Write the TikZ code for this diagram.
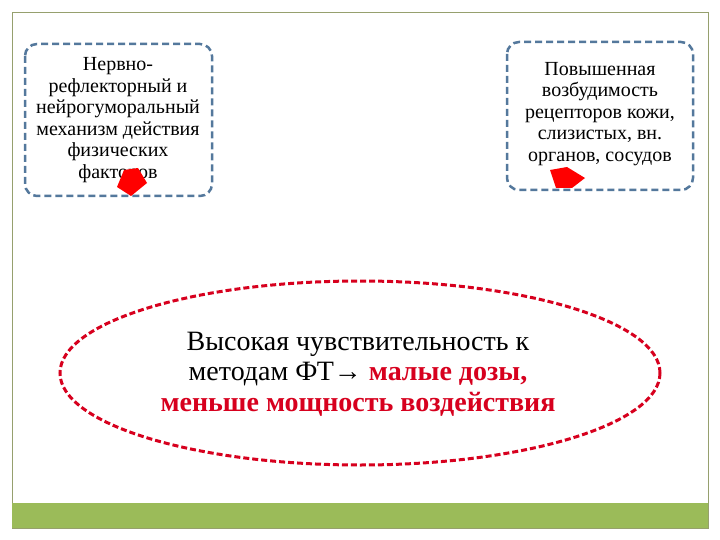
\documentclass[tikz,border=0pt]{standalone}
\usepackage{fontspec}
\setmainfont{Liberation Serif}
\definecolor{boxblue}{RGB}{84,120,156}
\definecolor{barg}{RGB}{155,187,89}
\definecolor{frameg}{RGB}{150,160,110}
\definecolor{dred}{RGB}{215,0,30}
\begin{document}
\begin{tikzpicture}[x=1pt,y=-1pt,
  box/.style={draw=boxblue, line width=2.5pt, dash pattern=on 7pt off 4pt, rounded corners=12pt},
  redarrow/.style={fill=red},
  btxt/.style={font=\fontsize{20}{21.5}\selectfont, align=center, text=black}]
\useasboundingbox (0,0) rectangle (720,540);
\fill[white] (0,0) rectangle (720,540);
\draw[frameg, line width=0.8pt] (12,12) rectangle (708,528);
\fill[barg] (12,503) rectangle (708,528);
\draw[box] (25,44) rectangle (212,196);
\node[btxt] (t1) at (118,120) {Нервно-\\рефлекторный и\\нейрогуморальный\\механизм действия\\физических\\факторов};
\draw[box] (507,42) rectangle (693,190);
\node[btxt] (t2) at (600,114) {Повышенная\\возбудимость\\рецепторов кожи,\\слизистых, вн.\\органов, сосудов};
\fill[redarrow] (117,187) -- (124,170) -- (138,168) -- (147,183) -- (131,196) -- cycle;
\fill[redarrow] (550,170) -- (567,167) -- (585,178) -- (572,188) -- (556,188) -- cycle;
\draw[dred, line width=3pt, dash pattern=on 6pt off 3pt] (360,373) ellipse [x radius=300, y radius=92];
\node[font=\fontsize{28}{30.5}\selectfont, align=center] (e) at (358,374) {Высокая чувствительность к\\методам ФТ→ \textcolor{dred}{\textbf{малые дозы,}}\\\textcolor{dred}{\textbf{меньше мощность воздействия}}};
\end{tikzpicture}
\end{document}
